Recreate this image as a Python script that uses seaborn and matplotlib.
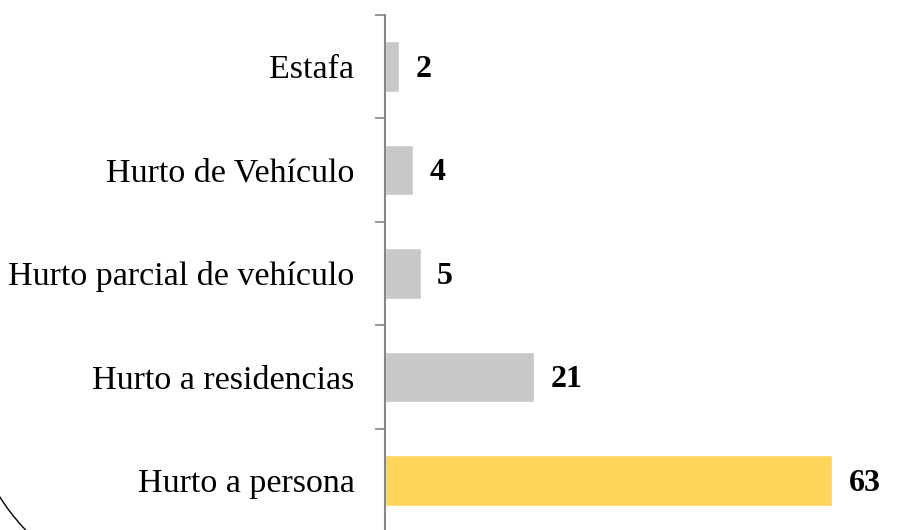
import matplotlib
matplotlib.use("Agg")
import matplotlib.pyplot as plt
from matplotlib.patches import Arc
import seaborn as sns

# ── Data ──────────────────────────────────────────────────────────────────────
categories = ["Estafa", "Hurto de Vehículo", "Hurto parcial de vehículo",
              "Hurto a residencias", "Hurto a persona"]
values     = [2, 4, 5, 21, 63]
bar_colors = ["#c8c8c8", "#c8c8c8", "#c8c8c8", "#c8c8c8", "#ffd55a"]

# ── Style ─────────────────────────────────────────────────────────────────────
sns.set_theme(style="white")
plt.rcParams["font.family"] = ["Liberation Serif", "DejaVu Serif"]
AXIS_GRAY = "#868686"

fig = plt.figure(figsize=(9.14, 5.30), dpi=100)
ax = fig.add_axes([385 / 914, -2 / 530, 1 - 385 / 914, 517 / 530])

sns.barplot(x=values, y=categories, hue=categories, palette=bar_colors,
            legend=False, orient="h", width=0.49, ax=ax, saturation=1)

ax.set_xlim(0, 74.5)
ax.set_ylim(4.5, -0.5)
ax.set_xlabel("")
ax.set_ylabel("")
ax.set_xticks([])

# category labels centred, tick marks on the boundaries
ax.tick_params(axis="y", which="major", left=False, length=0, pad=22,
               labelsize=24.5, labelcolor="black")
ax.set_yticks([i - 0.5 for i in range(len(categories) + 1)], minor=True)
ax.tick_params(axis="y", which="minor", left=True, length=7, width=1.2,
               color=AXIS_GRAY, direction="out")

for side in ["top", "right", "bottom"]:
    ax.spines[side].set_visible(False)
ax.spines["left"].set_color(AXIS_GRAY)
ax.spines["left"].set_linewidth(1.5)

# value labels
for i, v in enumerate(values):
    ax.annotate(str(v), xy=(v, i), xytext=(12, -2), textcoords="offset points",
                ha="left", va="center", fontsize=23, fontweight="bold", color="black")

# rounded-corner fragment at the bottom-left
arc = Arc((182 / 914, 149 / 530), width=432 / 914, height=432 / 530,
          theta1=195, theta2=255, transform=fig.transFigure,
          color="black", linewidth=1.0, clip_on=False)
fig.add_artist(arc)

fig.savefig("out.png", dpi=100)
